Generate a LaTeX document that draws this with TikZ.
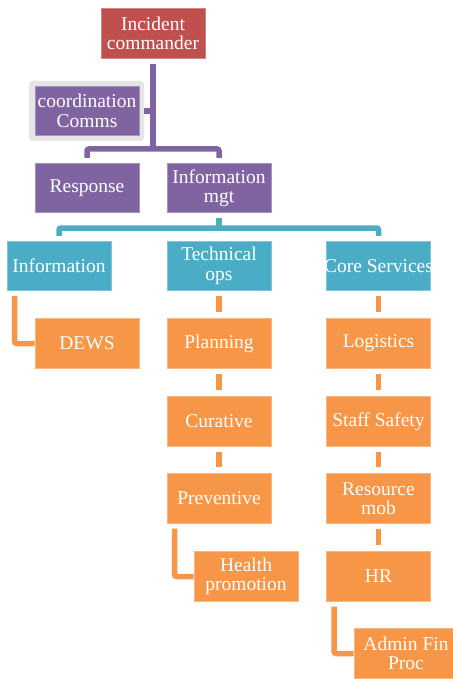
\documentclass[tikz,border=0pt]{standalone}
\usepackage{fontspec}
\setmainfont{Liberation Serif}
\begin{document}
\definecolor{cmdred}{HTML}{C0504D}
\definecolor{grpurple}{HTML}{8064A2}
\definecolor{grteal}{HTML}{4BACC6}
\definecolor{grorange}{HTML}{F79646}
\definecolor{framegray}{HTML}{E6E6E6}
\begin{tikzpicture}[x=1pt,y=-1pt,
  box/.style={rectangle, minimum width=104pt, minimum height=49.5pt, inner sep=0pt,
    align=center, text=white, line width=0.7pt,
    font=\fontsize{19.5}{19.5}\selectfont},
  redbox/.style={box, fill=cmdred, draw=cmdred!70!white},
  purplebox/.style={box, fill=grpurple, draw=grpurple!70!white},
  tealbox/.style={box, fill=grteal, draw=grteal!70!white},
  orangebox/.style={box, fill=grorange, draw=grorange!70!white},
  link/.style={line width=5.5pt, rounded corners=2pt},
  plink/.style={link, draw=grpurple},
  tlink/.style={link, draw=grteal},
  olink/.style={link, draw=grorange}]
\useasboundingbox (0,0) rectangle (452,679);

% level 0 and staff box
\node[redbox] (cmd) at (153,33.5) {Incident\\commander};
\node[fill=framegray, rounded corners=3pt, minimum width=115pt, minimum height=60pt, inner sep=0pt] (frame) at (86.5,111) {};
\node[purplebox] (coord) at (87,111) {coordination\\Comms};

% level 1
\node[purplebox] (resp) at (87,188) {Response};
\node[purplebox] (infomgt) at (219,188) {Information\\mgt};

% level 2 (long label may run past the box edges)
\node[tealbox] (info) at (59,266) {Information};
\node[tealbox] (tech) at (219,266) {Technical\\ops};
\node[tealbox] (core) at (378.5,266) {\makebox[100pt][c]{Core Services}};

% level 3 and below
\node[orangebox] (dews) at (87,343.5) {DEWS};
\node[orangebox] (plan) at (219,343.5) {Planning};
\node[orangebox] (cur) at (219,421.5) {Curative};
\node[orangebox] (prev) at (219,498.5) {Preventive};
\node[orangebox] (health) at (246,576.5) {Health\\promotion};
\node[orangebox] (logi) at (378.5,343.5) {Logistics};
\node[orangebox] (staff) at (378.5,421.5) {Staff Safety};
\node[orangebox] (resmob) at (378.5,498.5) {Resource\\mob};
\node[orangebox] (hr) at (378.5,576.5) {HR};
\node[orangebox] (admin) at (406,653.5) {Admin Fin\\Proc};

% junctions
\coordinate (pj) at (153,149);
\coordinate (tj) at (219,228);

% purple connectors
\draw[plink] ([yshift=-5pt]cmd.south) -- (pj);
\draw[plink] (frame.east) -- (frame.east -| pj);
\draw[plink] ([yshift=5pt]resp.north) |- (pj) -| ([yshift=5pt]infomgt.north);

% teal connectors
\draw[tlink] ([yshift=-5pt]infomgt.south) -- (tj);
\draw[tlink] ([yshift=5pt]info.north) |- (tj) -| ([yshift=5pt]core.north);

% orange connectors
\draw[olink] ([xshift=8pt,yshift=-5pt]info.south west) |- (dews.west);
\draw[olink] ([yshift=-5pt]tech.south) -- ([yshift=6pt]plan.north);
\draw[olink] ([yshift=-5pt]plan.south) -- ([yshift=6pt]cur.north);
\draw[olink] ([yshift=-5pt]cur.south) -- ([yshift=6pt]prev.north);
\draw[olink] ([xshift=8pt,yshift=-5pt]prev.south west) |- (health.west);
\draw[olink] ([yshift=-5pt]core.south) -- ([yshift=6pt]logi.north);
\draw[olink] ([yshift=-5pt]logi.south) -- ([yshift=6pt]staff.north);
\draw[olink] ([yshift=-5pt]staff.south) -- ([yshift=6pt]resmob.north);
\draw[olink] ([yshift=-5pt]resmob.south) -- ([yshift=6pt]hr.north);
\draw[olink] ([xshift=8pt,yshift=-5pt]hr.south west) |- (admin.west);
\end{tikzpicture}
\end{document}
